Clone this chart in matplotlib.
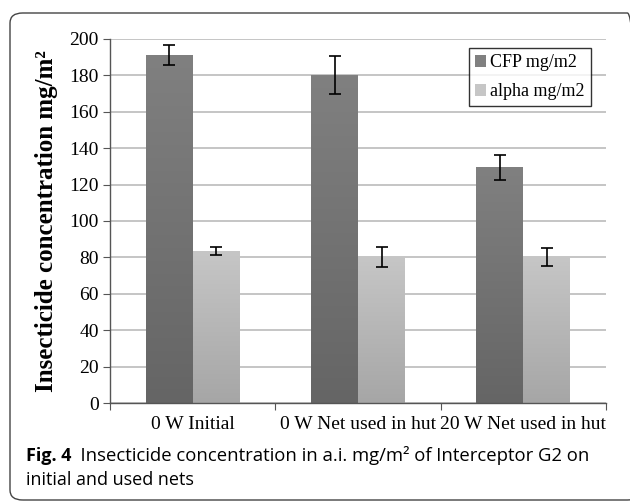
import numpy as np
import matplotlib
matplotlib.use("Agg")
import matplotlib.pyplot as plt
from matplotlib.patches import FancyBboxPatch, Patch

# data
groups = ["0 W Initial", "0 W Net used in hut", "20 W Net used in hut"]
cfp = [191.2, 180.0, 129.5]
cfp_err = [5.5, 10.5, 7.0]
alpha = [83.5, 80.0, 80.0]
alpha_err = [2.0, 5.5, 5.0]
series_names = ["CFP mg/m2", "alpha mg/m2"]
yticks = [0, 20, 40, 60, 80, 100, 120, 140, 160, 180, 200]

serif = "Liberation Serif"
sans = "Open Sans"

fig = plt.figure(figsize=(6.3, 5.03), dpi=100)
ax = fig.add_axes([0.1746, 0.1988, 0.7874, 0.7237])

x = np.arange(len(groups))
w = 0.284

# gradient colours (top, bottom) for each series
grads = [("#808080", "#656565"), ("#c6c6c6", "#a6a6a6")]


def grad_bars(xpos, vals, c):
    bars = ax.bar(xpos, vals, w, color=c[1], zorder=2, linewidth=0)
    g = np.linspace(0, 1, 256).reshape(-1, 1)
    cmap = matplotlib.colors.LinearSegmentedColormap.from_list("g", [c[0], c[1]])
    for b in bars:
        x0, y0 = b.get_x(), b.get_y()
        im = ax.imshow(g, cmap=cmap, extent=(x0, x0 + b.get_width(), y0, y0 + b.get_height()),
                       aspect="auto", zorder=2.5, origin="upper")
        im.set_clip_path(b)
    return bars


grad_bars(x - w / 2, cfp, grads[0])
grad_bars(x + w / 2, alpha, grads[1])
ax.errorbar(x - w / 2, cfp, yerr=cfp_err, fmt="none", ecolor="black", elinewidth=1.2,
            capsize=4, capthick=1.2, zorder=4)
ax.errorbar(x + w / 2, alpha, yerr=alpha_err, fmt="none", ecolor="black", elinewidth=1.2,
            capsize=4, capthick=1.2, zorder=4)

ax.set_xlim(-0.5, 2.5)
ax.set_ylim(0, 200)
ax.set_yticks(yticks)
ax.set_yticklabels([str(v) for v in yticks], fontfamily=serif, fontsize=14)
ax.yaxis.grid(True, color="#c0c0c0", linewidth=1.3, zorder=0)
ax.set_axisbelow(True)

ax.set_xticks([-0.5, 0.5, 1.5, 2.5])
ax.set_xticklabels([])
ax.set_xticks(x, minor=True)
ax.set_xticklabels(groups, minor=True, fontfamily=serif, fontsize=14)
ax.tick_params(axis="x", which="major", length=5, direction="out", color="#555555")
ax.tick_params(axis="x", which="minor", length=0, pad=9)
ax.tick_params(axis="y", length=5, direction="out", color="#555555", pad=3)

for s in ["top", "right"]:
    ax.spines[s].set_visible(False)
for s in ["left", "bottom"]:
    ax.spines[s].set_color("#555555")
    ax.spines[s].set_linewidth(1.0)

ax.set_ylabel("Insecticide concentration mg/m²", fontfamily=serif, fontsize=18,
              fontweight="bold")
ax.yaxis.set_label_coords(-0.105, 0.5)

handles = [Patch(facecolor=grads[0][0]), Patch(facecolor=grads[1][0])]
leg = ax.legend(handles, series_names, loc="upper right", bbox_to_anchor=(0.970, 0.975),
                prop={"family": serif, "size": 13}, frameon=True, fancybox=False,
                handlelength=0.6, handleheight=0.6, handletextpad=0.25,
                borderpad=0.35, labelspacing=0.65, borderaxespad=0)
leg.get_frame().set_edgecolor("black")
leg.get_frame().set_linewidth(1.0)

# caption
cap = fig.text(26 / 630, 1 - 461 / 503, "Fig. 4", fontfamily=sans, fontweight="bold",
               fontsize=13, va="baseline", ha="left")
ax.annotate("  Insecticide concentration in a.i. mg/m² of Interceptor G2 on",
            xy=(1, 0), xycoords=cap, va="bottom", ha="left",
            fontfamily=sans, fontsize=13.3, annotation_clip=False)
fig.text(26 / 630, 1 - 485 / 503, "initial and used nets", fontfamily=sans,
         fontsize=13, va="baseline", ha="left")

# rounded frame
frame = FancyBboxPatch((10 / 630, 1 - 500 / 503), 1.0, 487 / 503,
                       boxstyle="round,pad=0,rounding_size=0.02",
                       transform=fig.transFigure, facecolor="none",
                       edgecolor="#444444", linewidth=1.0)
fig.patches.append(frame)

fig.savefig("out.png", dpi=100)
